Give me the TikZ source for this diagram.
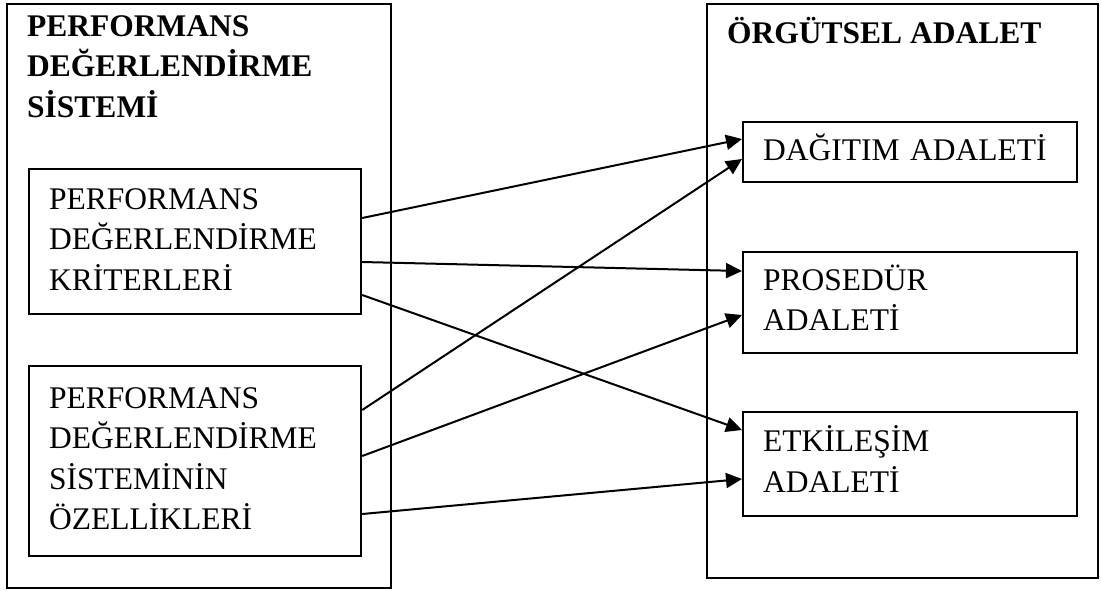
\documentclass[tikz,border=0pt]{standalone}
\usepackage{fontspec}
\setmainfont{Liberation Serif}
\usetikzlibrary{arrows.meta}
\tikzset{
  frame/.style={draw, line width=2.2pt, anchor=north west, inner sep=0pt},
  box/.style={draw, line width=2.2pt, anchor=north west, inner xsep=20pt, inner ysep=0pt,
    align=left, font=\fontsize{31.5}{40.5}\selectfont,
    execute at begin node=\strut, execute at end node=\strut},
  heading/.style={anchor=north west, inner sep=0pt, align=left,
    font=\fontsize{31.5}{40.5}\selectfont\bfseries,
    execute at begin node=\strut, execute at end node=\strut},
}
\begin{document}
\begin{tikzpicture}[x=1pt, y=-1pt]
      \useasboundingbox (0,0) rectangle (1101,590);
      \node[frame, minimum width=384pt, minimum height=584pt] (sistem) at (6,3) {};
      \node[frame, minimum width=391pt, minimum height=574pt] (adalet) at (706,3) {};
      \node[heading] (sistemtitle) at (27,15) {PERFORMANS\\DEĞERLENDİRME\\SİSTEMİ};
      \node[heading] (adalettitle) at (727,15) {ÖRGÜTSEL ADALET};
      \node[box, text width=292pt, minimum height=145pt] (kriter) at (28,168)
        {PERFORMANS\\DEĞERLENDİRME\\KRİTERLERİ};
      \node[box, text width=292pt, minimum height=190pt] (ozellik) at (28,365)
        {PERFORMANS\\DEĞERLENDİRME\\SİSTEMİNİN\\ÖZELLİKLERİ};
      \node[box, text width=294pt, minimum height=60pt] (dagitim) at (742,121)
        {DAĞITIM ADALETİ};
      \node[box, text width=294pt, minimum height=101pt] (prosedur) at (742,251)
        {PROSEDÜR\\ADALETİ};
      \node[box, text width=294pt, minimum height=104pt] (etkilesim) at (742,411)
        {ETKİLEŞİM\\ADALETİ};
      \begin{scope}[-{Triangle[length=16pt, width=15pt]}, line width=2pt]
        \draw ([yshift=-50pt]kriter.north east) to ([yshift=-18pt]dagitim.north west);
        \draw ([yshift=-94pt]kriter.north east) to ([yshift=-20pt]prosedur.north west);
        \draw ([yshift=-127pt]kriter.north east) to ([yshift=-19pt]etkilesim.north west);
        \draw ([yshift=-45pt]ozellik.north east) to ([yshift=-38pt]dagitim.north west);
        \draw ([yshift=-91pt]ozellik.north east) to ([yshift=-64pt]prosedur.north west);
        \draw ([yshift=-149pt]ozellik.north east) to ([yshift=-68pt]etkilesim.north west);
      \end{scope}
    \end{tikzpicture}
\end{document}
